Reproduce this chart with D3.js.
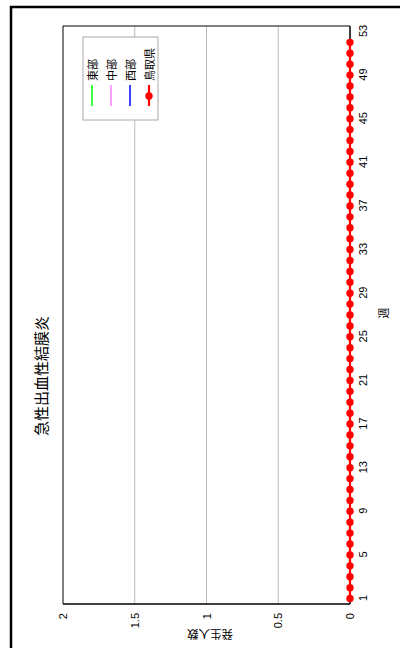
<!DOCTYPE html>
<html><head><meta charset="utf-8">
<script src="https://cdn.jsdelivr.net/npm/d3@7"></script>
<style>html,body{margin:0;padding:0;background:#fff;}svg{display:block;}</style>
</head><body>
<script>
const weeks = d3.range(1, 54);
const dataWeeks = d3.range(1, 53);
const seriesNames = ["東部", "中部", "西部", "鳥取県"];
const seriesColors = ["#00ff00", "#ff80ff", "#0000ff", "#ff0000"];
const touBu = dataWeeks.map(() => 0);
const chuuBu = dataWeeks.map(() => 0);
const seiBu = dataWeeks.map(() => 0);
const tottori = dataWeeks.map(() => 0);
const seriesValues = [touBu, chuuBu, seiBu, tottori];
const weekTicks = [1,5,9,13,17,21,25,29,33,37,41,45,49,53];
const yTicks = [0, 0.5, 1, 1.5, 2];
const yTickLabels = ["0", "0.5", "1", "1.5", "2"];
const title = "急性出血性結膜炎";
const xTitle = "週";
const yTitle = "発生人数";

const font = "'Liberation Sans', Arial, 'Noto Sans CJK JP', sans-serif";
const cjk = "'Noto Sans CJK JP', sans-serif";

const svg = d3.select("body").append("svg").attr("width", 400).attr("height", 648);
const g = svg.append("g").attr("transform", "translate(0,648) rotate(-90)");

// outer border (original 648x400 frame)
g.append("rect").attr("x", -10).attr("y", 11).attr("width", 651).attr("height", 420)
  .attr("fill", "none").attr("stroke", "#000").attr("stroke-width", 2.5);

const L = 44, R = 622, T = 63, B = 350;
const x = d3.scalePoint().domain(weeks).range([L, R]).padding(0.5);
const y = d3.scaleLinear().domain([0, 2]).range([B, T]);

// gridlines
g.append("g").selectAll("line").data(yTicks.filter(v => v > 0 && v < 2)).join("line")
  .attr("x1", L).attr("x2", R).attr("y1", d => y(d)).attr("y2", d => y(d))
  .attr("stroke", "#aaa").attr("stroke-width", 0.8);

// frame top & right
g.append("line").attr("x1", L).attr("x2", R).attr("y1", T).attr("y2", T).attr("stroke", "#000").attr("stroke-width", 1);
g.append("line").attr("x1", R).attr("x2", R).attr("y1", T).attr("y2", B).attr("stroke", "#000").attr("stroke-width", 1);

// axes
const xAxis = d3.axisBottom(x).tickValues(weekTicks).tickSize(0).tickPadding(9);
const xg = g.append("g").attr("transform", `translate(0,${B})`).call(xAxis);
xg.select(".domain").attr("stroke", "#000").attr("stroke-width", 1.5).attr("d", `M${L},0H${R}`);
xg.selectAll("text").attr("font-family", font).attr("font-size", 11).attr("fill", "#000");

const yAxis = d3.axisLeft(y).tickValues(yTicks).tickFormat((d, i) => yTickLabels[i]).tickSize(0).tickPadding(9);
const yg = g.append("g").attr("transform", `translate(${L},0)`).call(yAxis);
yg.select(".domain").attr("stroke", "#000").attr("stroke-width", 1.5).attr("d", `M0,${T}V${B}`);
yg.selectAll("text").attr("font-family", font).attr("font-size", 11).attr("fill", "#000");

// series
const line = d3.line().x((d, i) => x(dataWeeks[i])).y(d => y(d));
seriesValues.forEach((vals, si) => {
  g.append("path").datum(vals).attr("d", line).attr("fill", "none")
    .attr("stroke", seriesColors[si]).attr("stroke-width", si === 3 ? 2.2 : 1.2);
});
g.append("g").selectAll("circle").data(tottori).join("circle")
  .attr("cx", (d, i) => x(dataWeeks[i])).attr("cy", d => y(d)).attr("r", 3.7)
  .attr("fill", "#ff0000");

// titles
g.append("text").attr("x", 272).attr("y", 40).attr("text-anchor", "middle").attr("dominant-baseline", "central")
  .attr("font-family", cjk).attr("font-size", 15).attr("fill", "#000").text(title);
g.append("text").attr("x", 335).attr("y", 383).attr("text-anchor", "middle").attr("dominant-baseline", "central")
  .attr("font-family", cjk).attr("font-size", 11).attr("fill", "#000").text(xTitle);
g.append("text").attr("transform", "translate(13,210) rotate(-90)").attr("text-anchor", "middle").attr("dominant-baseline", "central")
  .attr("font-family", cjk).attr("font-size", 11.5).attr("fill", "#000").text(yTitle);

// legend
const lg = g.append("g");
lg.append("rect").attr("x", 528).attr("y", 83).attr("width", 83).attr("height", 75)
  .attr("fill", "#fff").attr("stroke", "#aaa").attr("stroke-width", 1);
const legY = [92, 111, 130, 149];
seriesNames.forEach((name, i) => {
  lg.append("line").attr("x1", 542).attr("x2", 563).attr("y1", legY[i]).attr("y2", legY[i])
    .attr("stroke", seriesColors[i]).attr("stroke-width", i === 3 ? 2.2 : 1.5);
  if (i === 3) lg.append("circle").attr("cx", 552).attr("cy", legY[i]).attr("r", 3.7).attr("fill", seriesColors[i]);
  lg.append("text").attr("x", 567).attr("y", legY[i]).attr("dominant-baseline", "central")
    .attr("font-family", cjk).attr("font-size", 11).attr("fill", "#000").text(name);
});
</script>
</body></html>
